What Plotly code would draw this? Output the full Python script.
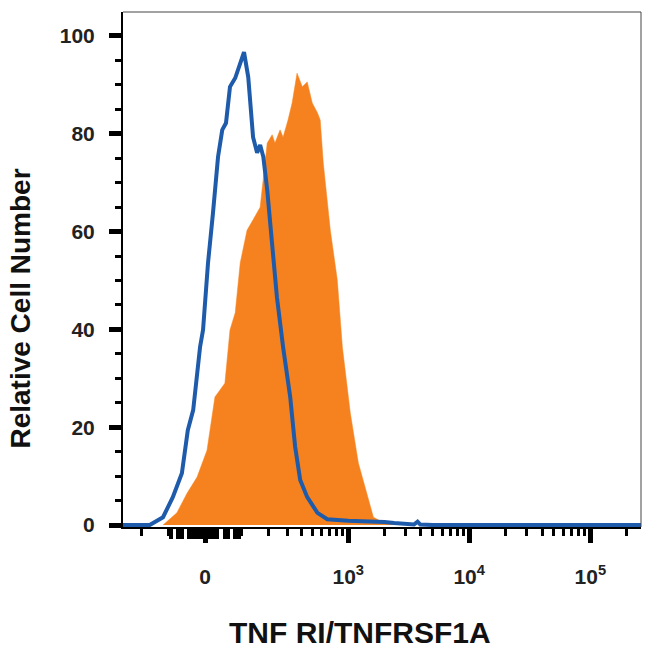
import numpy as np
import plotly.graph_objects as go

# biexponential-like display: arcsinh with a cofactor
COFACTOR = 132.0
X_MIN = -300
X_MAX = 262144

# isotype control (blue outline)
ctrl_x = [-300, -166, -117, -86, -60, -44, -30, -12.5, -5, 7.5, 20, 33, 44, 54, 65, 80,
          107, 121, 138, 153, 165, 178, 195, 218, 242, 276, 320, 354, 392, 451, 551, 668,
          800, 1000, 1300, 1700, 2000, 2400, 2900, 3500, 3750, 3950, 5000, 262144]
ctrl_y = [0, 0, 1.6, 5.7, 10.6, 19.4, 23.5, 36.4, 39.9, 53.6, 63.8, 75.3, 80.8, 82.2, 89.6, 91.4,
          96.7, 91.6, 79.3, 76.1, 77.7, 75.3, 68.5, 56.9, 46.6, 36.4, 26.2, 16.0, 9.2, 5.7, 2.5, 1.2,
          1.0, 0.9, 0.8, 0.8, 0.6, 0.4, 0.2, 0.1, 0.7, 0.1, 0, 0]

# TNF RI/TNFRSF1A stained cells (orange filled)
tnf_x = [-117, -74, -46, -20, 5, 25, 38, 51, 65, 80, 95, 117, 138, 165, 195, 218, 232,
         259, 276, 306, 333, 368, 409, 451, 498, 551, 582, 618, 708, 810, 893, 1040,
         1213, 1441, 1617, 1955, 2365, 2980, 3100]
tnf_y = [0, 2.5, 6.5, 9.8, 15.3, 26.2, 27.6, 29.0, 39.9, 43.4, 53.6, 60.3, 62.4, 65.0, 78.1, 79.8, 78.1,
         80.8, 79.3, 82.8, 86.3, 92.4, 89.6, 90.6, 86.3, 84.3, 82.8, 74.0, 60.3, 50.1, 36.4, 22.9,
         12.7, 5.7, 1.6, 0.5, 0.3, 0.3, 0]

major_vals = [0, 1e3, 1e4, 1e5]
major_text = ["0", "10<sup>3</sup>", "10<sup>4</sup>", "10<sup>5</sup>"]
near_zero = [-90, -70, -60, -40, -30, -20, -10, 10, 20, 30, 50, 60, 80, 90]
minor_vals = ([-200, -100, 100] + list(range(200, 1000, 100)) + list(range(2000, 10000, 1000))
              + list(range(20000, 100000, 10000)) + [200000])


def tr(v):
    return np.arcsinh(np.asarray(v, dtype=float) / COFACTOR)


FONT = "Liberation Sans"
x_range = [float(tr(X_MIN)), float(tr(X_MAX))]

fig = go.Figure()
fig.add_trace(go.Scatter(x=tr(tnf_x), y=tnf_y, mode="lines", fill="tozeroy",
                         fillcolor="#f5821f", line=dict(color="#f5821f", width=0.5),
                         showlegend=False))
fig.add_trace(go.Scatter(x=tr(ctrl_x), y=ctrl_y, mode="lines",
                         line=dict(color="#1f5bab", width=4), showlegend=False))

fig.update_layout(
    width=642, height=642,
    margin=dict(l=115, r=9, t=4, b=123),
    plot_bgcolor="white", paper_bgcolor="white",
    xaxis=dict(range=x_range,
               tickmode="array", tickvals=tr(major_vals), ticktext=major_text,
               ticks="outside", ticklen=14, tickwidth=5, tickcolor="black",
               showline=True, linewidth=2, linecolor="black",
               showgrid=False, zeroline=False,
               tickfont=dict(family=FONT, size=21, color="#222", weight="bold"),
               ticklabelstandoff=16,
               minor=dict(tickmode="array", tickvals=tr(minor_vals), ticks="outside",
                          ticklen=7, tickwidth=2.5, tickcolor="black")),
    # dense block of ticks around zero
    xaxis2=dict(range=x_range, overlaying="x", side="bottom", anchor="y",
                tickmode="array", tickvals=tr(near_zero), showticklabels=False,
                ticks="outside", ticklen=11, tickwidth=3.5, tickcolor="black",
                showgrid=False, zeroline=False, showline=False),
    yaxis=dict(range=[-0.4, 104.9],
               tickmode="array", tickvals=[0, 20, 40, 60, 80, 100],
               ticks="outside", ticklen=12, tickwidth=5, tickcolor="black",
               showline=True, linewidth=2, linecolor="black",
               showgrid=False, zeroline=False,
               tickfont=dict(family=FONT, size=21, color="#222", weight="bold"),
               ticklabelstandoff=10,
               minor=dict(dtick=5, tick0=0, ticks="outside", ticklen=6,
                          tickwidth=2.5, tickcolor="black")),
    shapes=[dict(type="line", xref="paper", yref="paper", x0=0, x1=1, y0=1, y1=1,
                 line=dict(color="#444", width=1)),
            dict(type="line", xref="paper", yref="paper", x0=1, x1=1, y0=0, y1=1,
                 line=dict(color="#444", width=1))],
    annotations=[
        dict(text="TNF RI/TNFRSF1A", xref="paper", yref="paper", x=0.4575, y=-0.204,
             showarrow=False, xanchor="center", yanchor="middle",
             font=dict(family=FONT, size=30, color="#111", weight="bold")),
        dict(text="Relative Cell Number", xref="paper", yref="paper", x=-0.198, y=0.425,
             showarrow=False, textangle=-90, xanchor="center", yanchor="middle",
             font=dict(family=FONT, size=28, color="#111", weight="bold")),
    ],
)
# invisible trace so the overlay axis is drawn
fig.add_trace(go.Scatter(x=[x_range[0]], y=[0], xaxis="x2", mode="markers",
                         marker=dict(opacity=0), showlegend=False, hoverinfo="skip"))

fig.write_html("out.html")
